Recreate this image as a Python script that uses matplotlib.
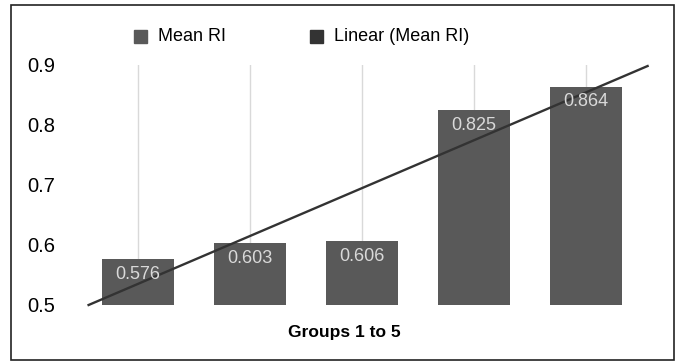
import numpy as np
import matplotlib.pyplot as plt
from matplotlib.patches import Rectangle

plt.rcParams['font.family'] = ['Liberation Sans', 'DejaVu Sans']

# Data
groups = [1, 2, 3, 4, 5]
mean_ri = [0.576, 0.603, 0.606, 0.825, 0.864]
value_labels = ['0.576', '0.603', '0.606', '0.825', '0.864']
legend_labels = ['Mean RI', 'Linear (Mean RI)']
y_ticks = [0.5, 0.6, 0.7, 0.8, 0.9]
x_title = 'Groups 1 to 5'

bar_color = '#595959'
trend_color = '#333333'

W, H = 678, 361
fig = plt.figure(figsize=(W / 100, H / 100), dpi=100)
ax = fig.add_axes([82 / W, 1 - 305 / H, 560 / W, 240 / H])

# vertical gridlines at the categories
for g in groups:
    ax.axvline(g, color='#d9d9d9', lw=1, zorder=0)

ax.bar(groups, mean_ri, width=0.65, color=bar_color, zorder=2)

for g, v, lab in zip(groups, mean_ri, value_labels):
    ax.annotate(lab, (g, v), xytext=(0, -11), textcoords='offset points',
                ha='center', va='center', color='#d9d9d9', fontsize=13, zorder=4)

# linear trend line (starts where it crosses the axis minimum)
x = np.array(groups, dtype=float)
slope, icpt = np.polyfit(x, mean_ri, 1)
x0 = (0.5 - icpt) / slope
xt = np.array([x0, 5.55])
ax.plot(xt, slope * xt + icpt, color=trend_color, lw=1.7, zorder=3, clip_on=False)

ax.set_xlim(0.5, 5.5)
ax.set_ylim(0.5, 0.9)
ax.set_yticks(y_ticks)
ax.set_yticklabels([f'{t:.1f}' for t in y_ticks], fontsize=14.5)
ax.set_xticks([])
ax.tick_params(axis='y', length=0, pad=19)
for s in ax.spines.values():
    s.set_visible(False)

# x axis title
fig.text(344 / W, 1 - 333 / H, x_title, ha='center', va='center',
         fontsize=12.5, fontweight='bold')

# legend
leg_x = [134, 310]
leg_colors = [bar_color, trend_color]
for lx, lab, c in zip(leg_x, legend_labels, leg_colors):
    fig.patches.append(Rectangle((lx / W, 1 - 43 / H), 13 / W, 13 / H,
                                 transform=fig.transFigure, color=c))
    fig.text((lx + 24) / W, 1 - 36.5 / H, lab, ha='left', va='center', fontsize=13)

# chart border
fig.patches.append(Rectangle((11 / W, 1 - 360 / H), 663 / W, 355 / H,
                             transform=fig.transFigure, fill=False,
                             edgecolor='#222222', lw=1.2))

fig.savefig('out.png', dpi=100)
